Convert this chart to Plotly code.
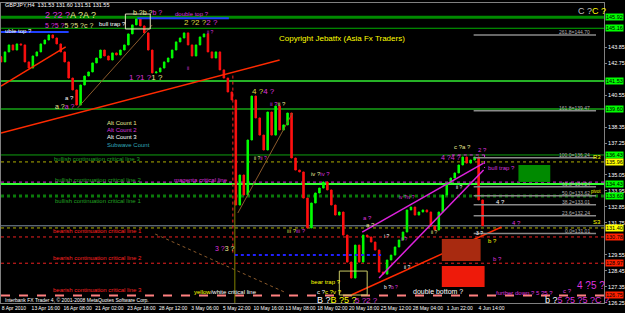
import plotly.graph_objects as go

F = "Liberation Sans, Arial, sans-serif"

# ---------------- data ----------------
bar_index = list(range(0, 244, 2))
close = [
    142.84, 143.53, 144.01, 143.66, 144.08, 144.01, 142.84, 142.42, 143.25, 143.53,
    144.08, 144.35, 144.70, 144.49, 144.08, 143.53, 142.84, 141.73, 140.91, 139.87,
    141.25, 141.87, 142.15, 142.77, 143.11,
    143.66, 143.25, 142.97, 143.46, 143.32, 143.66, 144.01, 144.77, 145.39, 145.80,
    145.32, 144.84, 143.66, 142.08, 142.15, 142.42, 142.84, 143.11, 143.66, 144.22,
    144.49, 144.84, 144.01, 143.25, 144.01,
    144.56, 144.77, 143.53, 143.11, 143.53, 142.29, 141.73, 140.77, 140.22, 132.98,
    135.05, 133.67, 137.46, 140.49, 138.98, 137.80, 136.77, 139.39, 137.80, 139.80,
    138.15, 138.50, 139.32, 136.22, 135.39,
    135.26, 133.46, 131.40, 133.12, 133.81, 134.15, 134.57, 134.02, 132.98, 132.29,
    132.50, 130.91, 129.05, 127.95, 130.22, 129.05, 130.91, 130.78, 130.43, 129.88,
    128.36, 128.22, 129.19, 129.53, 130.09,
    130.57, 131.12, 132.64, 132.84, 132.29, 132.50, 132.64, 132.50, 131.53, 131.26,
    132.50, 133.67, 134.50, 134.84, 135.19, 135.74, 136.29, 135.87, 136.08, 136.29,
    133.33, 131.55,
]
first_open = 143.20
open_ = [first_open] + close[:-1]
high = [max(o, c) for o, c in zip(open_, close)]
low = [min(o, c) for o, c in zip(open_, close)]

time_labels = ["8 Apr 2010", "13 Apr 16:00", "16 Apr 08:00", "21 Apr 02:00", "23 Apr 18:00",
               "28 Apr 12:00", "3 May 06:00", "5 May 22:00", "10 May 16:00", "13 May 08:00",
               "18 May 02:00", "20 May 18:00", "25 May 12:00", "28 May 04:00", "1 Jun 22:00",
               "4 Jun 14:00"]
time_label_bars = [16 * i for i in range(len(time_labels))]

price_ticks = [126.25, 127.35, 128.45, 129.55, 131.75, 132.85, 133.95, 135.05,
               137.25, 138.35, 140.55, 142.75, 143.85]

# level lines: price, colour, width, dash
levels = [
    (145.92, "#008a00", 3, "solid"),
    (145.16, "#00b000", 1, "solid"),
    (141.53, "#33ee33", 1.5, "solid"),
    (139.60, "#107a10", 2, "solid"),
    (136.43, "#10a010", 1, "solid"),
    (135.95, "#b0b000", 1, "dot"),
    (134.56, "#dd33dd", 1, "dot"),
    (134.43, "#33ff33", 2, "solid"),
    (133.60, "#0a7a0a", 3, "dot"),
    (131.55, "#8090a0", 1, "solid"),
    (131.40, "#b0b000", 1, "dot"),
    (130.78, "#ee2020", 1, "dot"),
    (128.97, "#ee2020", 1, "dot"),
    (126.75, "#ff8080", 2, "dash"),
]

price_boxes = [
    (145.92, "145.92", "#00ff00"), (145.16, "145.16", "#00ff00"),
    (141.53, "141.53", "#00ff00"), (139.60, "139.60", "#00ff00"),
    (136.43, "136.43", "#00ff00"), (135.95, "135.96", "#ffff00"),
    (134.43, "134.43", "#00ff00"), (133.60, "133.60", "#00ff00"),
    (131.40, "131.40", "#ffff00"), (130.78, "130.78", "#ff2000"),
    (128.97, "128.97", "#ff2000"), (126.75, "126.75", "#ff2000"),
]

fib_base, fib_top = 131.01, 136.24
fib_ratios = [261.8, 161.8, 100.0, 61.8, 50.0, 38.2, 23.6, 0.0]

# ---------------- figure ----------------
fig = go.Figure()
fig.add_trace(go.Candlestick(
    x=bar_index, open=open_, high=high, low=low, close=close,
    increasing=dict(line=dict(color="#00ff00", width=1), fillcolor="#00ff00"),
    decreasing=dict(line=dict(color="#ff1010", width=1), fillcolor="#ff1010"),
    whiskerwidth=0, showlegend=False, hoverinfo="skip"))

shapes = []
XMAX = 303
for p, col, w, d in levels:
    shapes.append(dict(type="line", xref="x", yref="y", x0=0, x1=XMAX, y0=p, y1=p,
                       line=dict(color=col, width=w, dash=d), layer="below"))


def seg(x0, y0, x1, y1, col, w=1.5, dash="solid"):
    shapes.append(dict(type="line", xref="x", yref="y", x0=x0, y0=y0, x1=x1, y1=y1,
                       line=dict(color=col, width=w, dash=dash)))


def box(x0, y0, x1, y1, line_col=None, fill=None, w=1):
    shapes.append(dict(type="rect", xref="x", yref="y", x0=x0, y0=y0, x1=x1, y1=y1,
                       line=dict(color=line_col or "rgba(0,0,0,0)", width=w if line_col else 0),
                       fillcolor=fill or "rgba(0,0,0,0)"))


# trend lines
seg(0, 141.18, 32.5, 143.87, "#ff2a00")
seg(0, 137.94, 140, 142.97, "#ff2a00")
seg(38.5, 139.67, 76, 145.39, "#8b5a2b", 1)
seg(119, 132.43, 146.5, 139.32, "#8b5a2b", 1)
seg(77.5, 130.98, 143.5, 126.92, "#8b5a2b", 1, "dot")
seg(176, 126.78, 251.5, 131.47, "#ff2a00")
seg(181.5, 131.12, 242.5, 135.87, "#dd22dd")
seg(190, 127.95, 242.5, 135.39, "#dd22dd")
seg(116.5, 141.9, 116.5, 129.54, "#ff2020", 1, "dot")
seg(117.5, 133.3, 117.5, 126.23, "#808000", 1)
seg(117.5, 129.54, 191, 129.54, "#2020ff", 2, "dot")
seg(0, 144.90, 34, 144.90, "#2040ff", 2)
seg(68.5, 145.85, 114.5, 145.85, "#2040ff", 2)
seg(226.5, 136.43, 243, 136.43, "#dd22dd", 1, "dot")
seg(243, 136.43, 243, 135.53, "#dd22dd", 1, "dot")

# boxes / zones
box(62.5, 146.14, 75, 145.11, line_col="#e0e0c0")
box(170, 128.43, 184, 126.78, line_col="#c8c864")
box(260, 135.74, 276, 134.57, fill="#008a00")
box(221.5, 130.64, 241, 129.12, fill="#a82a10")
box(221.5, 128.78, 243, 127.33, fill="#ee1a0a")

# fib lines
for r in fib_ratios:
    v = fib_base + (fib_top - fib_base) * r / 100.0
    seg(237.5, v, 299, v, "#8a8a8a", 1.5)

annotations = []


def T(px, py, text, color="#ffffff", size=6, anchor="left"):
    annotations.append(dict(x=px / 606.0, y=(303 - py) / 300.0, xref="paper", yref="paper",
                            text=text, showarrow=False, xanchor=anchor, yanchor="middle",
                            font=dict(color=color, size=size, family=F)))


def S(text, color):
    return "<span style='color:%s'>%s</span>" % (color, text)


M = "#dd33dd"
Y1 = "#e8e890"
YL = "#ffff00"
W = "#ffffff"

# fib labels
for r in fib_ratios:
    v = fib_base + (fib_top - fib_base) * r / 100.0
    annotations.append(dict(x=297, y=v, xref="x", yref="y", text="%.1f=%.2f" % (r, v),
                            showarrow=False, xanchor="right", yanchor="bottom", yshift=-2,
                            font=dict(color="#b0b0b0", size=5, family=F)))

T(2, 5, "GBPJPY,H4  131.53 131.60 131.51 131.55", W, 5.5)
T(42, 15, S("2 ?2 ?", M) + S("A ?A ?", Y1), size=9)
T(42, 25, S("5 ?5 ?", M) + S("5 ?5 ?c ?", Y1), size=7)
T(2, 31, "uble top ?", W, 6)
T(96, 24, "bull trap ?", W, 6)
T(131, 13, S("b ?b ?", Y1) + S("b ?", M), size=7)
T(173, 14, "double top ?", M, 6)
T(182, 23, S("2 ?2 ?", "#dddd40") + S("2 ?", M), size=8)
T(205, 32, "ii ?", M, 5)
T(127, 77, S("1 ?1 ?", M) + S("1 ?", Y1), size=8)
T(185, 68, "ii", M, 5)
T(62, 98, "a ?", W, 6)
T(52, 106, S("a ?", Y1) + S("a ?", M), size=7)
T(105, 123, "Alt Count 1", Y1, 6)
T(105, 130, "Alt Count 2", M, 6)
T(105, 137, "Alt Count 3", W, 6)
T(105, 145, "Subwave Count", "#30a8b8", 6)
T(277, 38, "Copyright Jebatfx (Asia Fx Traders)", YL, 8)
T(578, 11, S("C ?", "#c0c0c0") + S("C ?", YL), size=9)
T(250, 92, S("4 ?", "#dddd40") + S("4 ?", M), size=8)
T(268, 104, S("ii ?", M) + S("ii ?", Y1), size=6)
T(51, 159, "bullish continuation critical line 3", "#22a022", 6)
T(52, 180, "bullish continuation critical line 2", "#22a022", 6)
T(52, 201, "bullish continuation critical line 1", "#22a022", 6)
T(172, 180, "magenta critical line", M, 6)
T(50, 231, "bearish continuation critical line 1", "#ff2020", 6)
T(50, 258, "bearish continuation critical line 2", "#ff2020", 6)
T(50, 290, "bearish continuation critical line 3", "#ff2020", 6)
T(192, 292, S("yellow", YL) + S("/white critical line", W), size=6)
T(2, 300, "Interbank FX Trader 4, \u00a9 2001-2008 MetaQuotes Software Corp.", W, 5)
T(213, 248, S("3 ?", M) + S("3 ?", Y1), size=7)
T(252, 158, S("ii ?", Y1) + S("ii ?", M), size=5)
T(285, 231, S("iii ?", "#dddd40") + S("iii ?", M), size=6)
T(310, 174, S("iv ?", Y1) + S("iv ?", M), size=6)
T(362, 218, "a ?", M, 6)
T(365, 225, "a ?", Y1, 6)
T(398, 197, "iv ?iv ?", M, 5)
T(383, 236, "i ?", W, 5)
T(430, 232, "ii ?", Y1, 5)
T(400, 239, "ii ?", M, 5)
T(403, 267, "ii ?", W, 5)
T(383, 287, S("b ?", W) + S("b ?", M), size=5)
T(310, 282, "bear trap ?", YL, 6)
T(316, 292, S("c ?", W) + S("c ?v ?", YL), size=6)
T(316, 300, S("B ?", W) + S("B ?5 ?", YL), size=9)
T(354, 300, "5 ?2 ?", M, 8)
T(412, 291, "double bottom ?", W, 7)
T(495, 293, "further down ? 5 ?5 ?", M, 6)
T(563, 291, "c ?", M, 6)
T(577, 285, "4 ?5 ?", M, 10)
T(545, 300, S("b ?", W) + S("5 ?5 ?5 ?C ?", M), size=9)
T(487, 168, "bull trap ?", M, 6)
T(440, 157, "4 ?4 ?", M, 7)
T(453, 147, "c ?a ?", Y1, 6)
T(477, 150, "2 ?", M, 6)
T(455, 187, "ii ?", W, 5)
T(495, 202, "4 ?", W, 6)
T(512, 223, "4 ?", M, 6)
T(475, 233, "3 ?", W, 5)
T(487, 241, "b ?", YL, 6)
T(492, 259, "b ?", M, 6)
T(605, 157, "R3", YL, 6, "right")
T(605, 222, "S3", YL, 6, "right")
T(605, 191, "pivot", YL, 4.5, "right")

for p, txt, col in price_boxes:
    annotations.append(dict(x=1, y=p, xref="paper", yref="y", text=txt, showarrow=False,
                            xanchor="left", yanchor="middle", xshift=1, bgcolor=col,
                            borderpad=0, font=dict(color="#000000", size=5.5, family=F)))

fig.update_layout(
    width=625, height=313,
    margin=dict(l=0, r=19, t=3, b=10),
    paper_bgcolor="#000000", plot_bgcolor="#000000",
    shapes=shapes, annotations=annotations, showlegend=False,
    boxgap=0.45,
    xaxis=dict(range=[0, XMAX], showgrid=False, zeroline=False, rangeslider=dict(visible=False),
               tickvals=[b + 6.5 for b in time_label_bars], ticktext=time_labels,
               tickangle=0,
               tickfont=dict(color="#ffffff", size=5, family=F), ticks="", ticklen=0,
               showline=True, linecolor="#808080", mirror=True),
    yaxis=dict(range=[126.23, 146.90], side="right", showgrid=False, zeroline=False,
               tickvals=price_ticks, ticktext=["%.2f" % v for v in price_ticks],
               tickfont=dict(color="#ffffff", size=5.5, family=F), ticks="outside", ticklen=2,
               tickcolor="#808080", showline=True, linecolor="#808080", mirror=True),
)

fig.write_html("out.html")
